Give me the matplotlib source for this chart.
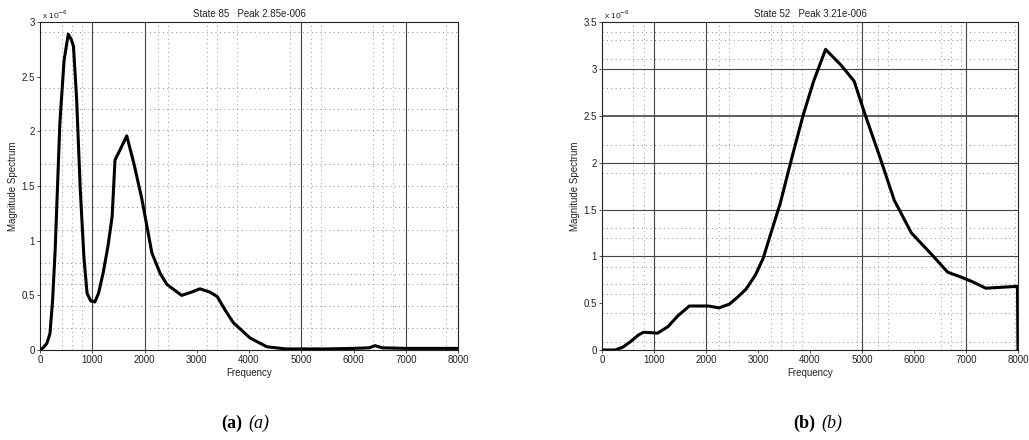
import numpy as np
import matplotlib
matplotlib.use("Agg")
import matplotlib.pyplot as plt

plt.rcParams["font.family"] = ["Liberation Sans", "DejaVu Sans"]

# panel (a): State 85
freq_a = [0, 57, 130, 190, 240, 290, 380, 460, 540, 600, 640, 700, 770, 840, 900, 970,
          1050, 1120, 1210, 1300, 1380, 1435, 1550, 1660, 1800, 1950, 2140, 2300, 2430,
          2710, 2900, 3060, 3250, 3390, 3550, 3700, 4020, 4340, 4700, 5000, 5500,
          6000, 6300, 6410, 6550, 7000, 7500, 8000]
mag_a = [0.0, 0.02, 0.06, 0.15, 0.45, 0.92, 2.08, 2.65, 2.89, 2.84, 2.78, 2.3, 1.47, 0.85,
         0.52, 0.45, 0.44, 0.52, 0.71, 0.95, 1.22, 1.74, 1.85, 1.96, 1.7, 1.38, 0.89, 0.70,
         0.60, 0.50, 0.53, 0.56, 0.53, 0.49, 0.36, 0.25, 0.11, 0.03, 0.01, 0.01, 0.01,
         0.015, 0.02, 0.04, 0.02, 0.015, 0.015, 0.015]

# panel (b): State 52
freq_b = [0, 250, 400, 550, 700, 800, 1070, 1270, 1450, 1680, 2050, 2250, 2450, 2600, 2770,
          2950, 3100, 3250, 3430, 3650, 3870, 4070, 4300, 4600, 4850, 5050, 5350, 5620,
          5950, 6340, 6650, 6900, 7120, 7380, 7990, 8000]
mag_b = [0.0, 0.0, 0.03, 0.09, 0.16, 0.19, 0.18, 0.25, 0.36, 0.47, 0.47, 0.45, 0.49, 0.56,
         0.65, 0.8, 0.98, 1.25, 1.57, 2.05, 2.51, 2.87, 3.21, 3.04, 2.87, 2.53, 2.05, 1.60,
         1.25, 1.02, 0.83, 0.78, 0.73, 0.66, 0.68, 0.0]

titles = ["State 85   Peak 2.85e-006", "State 52   Peak 3.21e-006"]
captions = [("(a)", "(a)"), ("(b)", "(b)")]
ymax = [3, 3.5]

# odd grid lines of the original MATLAB export
solid_x = [1000, 2000, 5000, 7000]
dotted_x_a = [420, 610, 800, 2250, 2450, 3200, 3390, 3770, 4790, 5180, 5370, 6380, 6570, 6760, 7770]
dotted_y_a = [0.2, 0.4, 0.6, 0.7, 0.8, 1.1, 1.31, 1.5, 1.7, 2.01, 2.21, 2.4, 2.91]
solid_y_a = []
dotted_x_b = [590, 800, 2250, 2450, 3250, 3450, 3680, 3840, 4900, 5310, 5500, 6520, 6710, 6910, 7940]
dotted_y_b = [0.09, 0.4, 0.6, 0.7, 0.89, 1.2, 1.3, 1.89, 2.19, 2.8, 3.11, 3.31, 3.4]
solid_y_b = [1, 1.5, 2, 2.5, 3]

fig = plt.figure(figsize=(10.29, 4.4), dpi=100)
positions = [[0.0389, 0.2045, 0.4062, 0.745], [0.585, 0.2045, 0.4043, 0.745]]
data = [(freq_a, mag_a, dotted_x_a, dotted_y_a, solid_y_a),
        (freq_b, mag_b, dotted_x_b, dotted_y_b, solid_y_b)]

for i, (f, m, dx, dy, sy) in enumerate(data):
    ax = fig.add_axes(positions[i])
    for x in solid_x:
        ax.axvline(x, color="#444444", lw=0.8, zorder=1)
    for x in dx:
        ax.axvline(x, color="#999999", lw=0.7, ls=(0, (1, 3.5)), zorder=1)
    for y in dy:
        ax.axhline(y, color="#888888", lw=0.7, ls=(0, (1, 3.5)), zorder=1)
    for y in sy:
        ax.axhline(y, color="#444444", lw=1.2 if y == 2.5 else 0.8, zorder=1)
    ax.plot(f, m, color="black", lw=2.2, zorder=3, solid_joinstyle="round")
    ax.set_xlim(0, 8000)
    ax.set_ylim(0, ymax[i])
    ax.set_xticks(range(0, 8001, 1000))
    yt = np.arange(0, ymax[i] + 0.01, 0.5)
    ax.set_yticks(yt)
    ax.set_yticklabels([("%g" % v) for v in yt])
    ax.tick_params(labelsize=7, length=2, width=0.6, color="#333333", labelcolor="#222222", pad=1.5)
    for s in ax.spines.values():
        s.set_linewidth(0.8)
        s.set_color("#222222")
    ax.set_title(titles[i], fontsize=7, color="#222222", pad=4)
    ax.set_xlabel("Frequency", fontsize=7, color="#222222", labelpad=2)
    ax.set_ylabel("Magnitude Spectrum", fontsize=7, color="#222222", labelpad=3)
    ax.text(0.005, 1.005, r"x 10$^{-6}$", transform=ax.transAxes, fontsize=6, color="#222222",
            ha="left", va="bottom")

cap_x = [245 / 1029, 818 / 1029]
for i, (b, it) in enumerate(captions):
    fig.text(cap_x[i] - 0.003, 0.038, b, fontsize=13, fontweight="bold", family="Liberation Serif",
             ha="right", va="center")
    fig.text(cap_x[i] + 0.003, 0.038, it, fontsize=13, style="italic", family="Liberation Serif",
             ha="left", va="center")

fig.savefig("out.png", dpi=100)
